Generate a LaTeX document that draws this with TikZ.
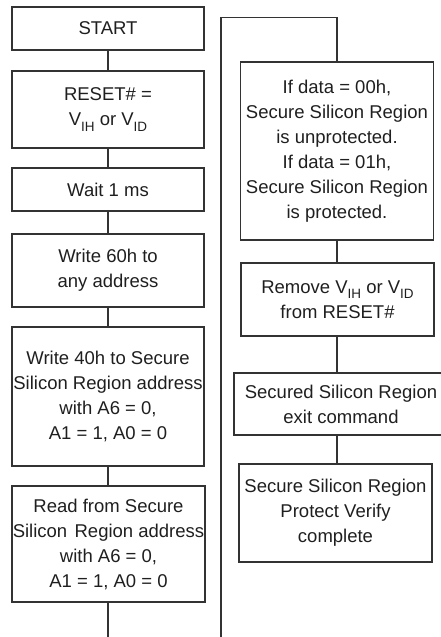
\documentclass[tikz,border=0pt]{standalone}
\usepackage{fontspec}
\setmainfont{Liberation Sans}
\newcommand\sbs[1]{\raisebox{-0.28em}{\fontsize{13.5}{13.5}\selectfont #1}}
\begin{document}
\begin{tikzpicture}[x=1pt,y=-1pt]
\tikzset{
  box/.style={draw=black!80, line width=1.1pt, inner xsep=0pt, inner ysep=0pt,
    align=center, text=black!88, font=\fontsize{18.5}{25}\selectfont},
  link/.style={draw=black!80, line width=1.1pt}
}
\useasboundingbox (0,0) rectangle (440,637);
% left column
\node[box, minimum width=192pt, minimum height=43pt] (start) at (108,28.5) {START};
\node[box, minimum width=192pt, minimum height=77pt] (reset) at (108,109.5) {RESET\# =\\V\sbs{IH} or V\sbs{ID}};
\node[box, minimum width=192pt, minimum height=43pt] (wait) at (108,189.5) {Wait 1 ms};
\node[box, minimum width=192pt, minimum height=73pt] (w60) at (108,270.5) {Write 60h to\\any address};
\node[box, minimum width=192pt, minimum height=139pt] (w40) at (108,396.5) {Write 40h to Secure\\Silicon Region address\\with A6 = 0,\\A1 = 1, A0 = 0};
\node[box, minimum width=193pt, minimum height=116pt] (read) at (108.5,544) {Read from Secure\\Silicon\hspace{0.12em} Region address\\with A6 = 0,\\A1 = 1, A0 = 0};
\coordinate (lend) at (108,637);
\draw[link] (start.south) -- (reset.north);
\draw[link] (reset.south) -- (wait.north);
\draw[link] (wait.south) -- (w60.north);
\draw[link] (w60.south) -- (w40.north);
\draw[link] (w40.south) -- (start.south |- read.north);
\draw[link] (start.south |- read.south) -- (lend);
% right column
\node[box, minimum width=193pt, minimum height=178pt] (ifdata) at (337,151) {If data = 00h,\\Secure Silicon Region\\is unprotected.\\If data = 01h,\\Secure Silicon Region\\is protected.};
\node[box, minimum width=193pt, minimum height=73pt] (remove) at (337.5,299.5) {Remove V\sbs{IH} or V\sbs{ID}\\from RESET\#};
\node[box, minimum width=214pt, minimum height=62pt] (exit) at (341,404) {Secured Silicon Region\\exit command};
\node[box, minimum width=193pt, minimum height=98pt] (verify) at (335.5,513) {Secure Silicon Region\\Protect Verify\\complete};
\coordinate (rbot) at (221,637);
\coordinate (rtop) at (221,17.5);
\draw[link] (rbot) -- (rtop) -| (ifdata.north);
\draw[link] (ifdata.south) -- (ifdata.south |- remove.north);
\draw[link] (ifdata.south |- remove.south) -- (ifdata.south |- exit.north);
\draw[link] (ifdata.south |- exit.south) -- (ifdata.south |- verify.north);
\end{tikzpicture}
\end{document}
